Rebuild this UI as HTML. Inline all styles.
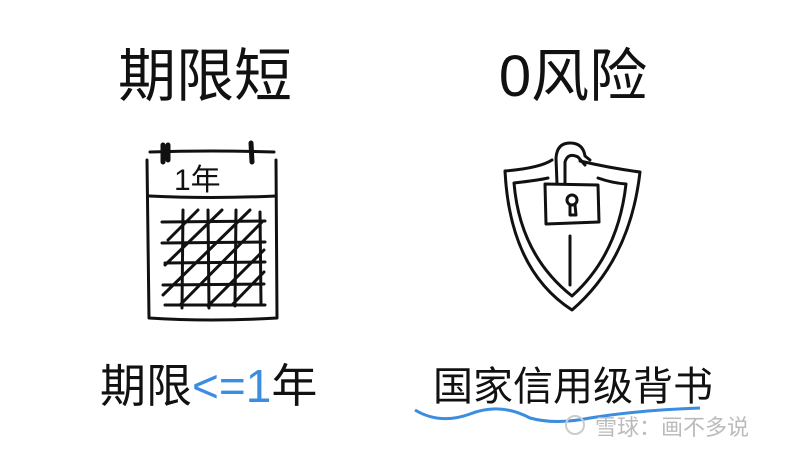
<!DOCTYPE html>
<html><head><meta charset="utf-8"><style>
html,body{margin:0;padding:0;background:#fff;width:800px;height:450px;overflow:hidden}
svg{display:block}
text{font-family:"Liberation Sans","WenQuanYi Zen Hei","Noto Sans CJK SC",sans-serif}
</style></head><body>
<svg width="800" height="450" viewBox="0 0 800 450" xmlns="http://www.w3.org/2000/svg">
<g fill="#111">
<text x="205" y="96" font-size="58" text-anchor="middle">期限短</text>
<text x="573" y="96" font-size="58" text-anchor="middle">0风险</text>
<text x="100" y="402" font-size="46">期限<tspan fill="#3a8de0">&lt;=1</tspan>年</text>
<text x="433" y="400" font-size="40">国家信用级背书</text>
</g>
<g fill="none" stroke="#111" stroke-width="3" stroke-linecap="round" stroke-linejoin="round">
<!-- calendar -->
<path d="M150 152 Q210 150 274 152"/>
<path d="M147 160 L149 318 Q210 322 277 318 L276 160"/>
<path d="M149 196 Q210 199 276 196"/>
<path d="M163 145 L163 162 M168 145 L168 160 M251 143 L252 162" stroke-width="5"/>
<path d="M162 222 L265 221 M162 243 L265 242 M165 263 L265 262 M163 285 L264 284 M165 305 L265 305"/>
<path d="M183 210 L182 308 M208 210 L209 308 M236 210 L235 306 M260 212 L261 305"/>
<path d="M168 240 L198 210 M165 265 L222 210 M163 295 L250 210 M180 305 L262 222 M208 306 L264 250 M232 305 L264 272"/>
<!-- shield -->
<path d="M505 171 Q540 168 552 160 M580 161 Q610 168 640 172 Q630 260 572 310 Q510 270 505 171"/>
<path d="M514 183 Q540 180 548 178 M598 178 Q612 183 626 184 Q618 255 572 296 Q520 255 514 183"/>
<path d="M557 184 L556 158 Q557 143 570 143 Q583 143 585 156 L590 160 M565 184 L565 162 Q568 152 578 157 L585 165"/>
<path d="M545 184 L598 185 L599 222 L546 224 Z" fill="#fff"/>
<path d="M570 236 L570 285"/>
<circle cx="572" cy="200" r="5"/>
<path d="M570 205 L570 215 L576 215 L575 205"/>
</g>
<text x="174" y="190" font-size="30" fill="#111">1年</text>
<path d="M415 410 Q440 425 470 414 Q500 402 530 418 Q555 425 590 418 Q640 410 700 408" fill="none" stroke="#3a8de0" stroke-width="3"/>
<text x="595" y="435" font-size="22" fill="#bbb">雪球：画不多说</text>
<circle cx="575" cy="425" r="9" fill="none" stroke="#ccc" stroke-width="2"/>
</svg>
</body></html>
